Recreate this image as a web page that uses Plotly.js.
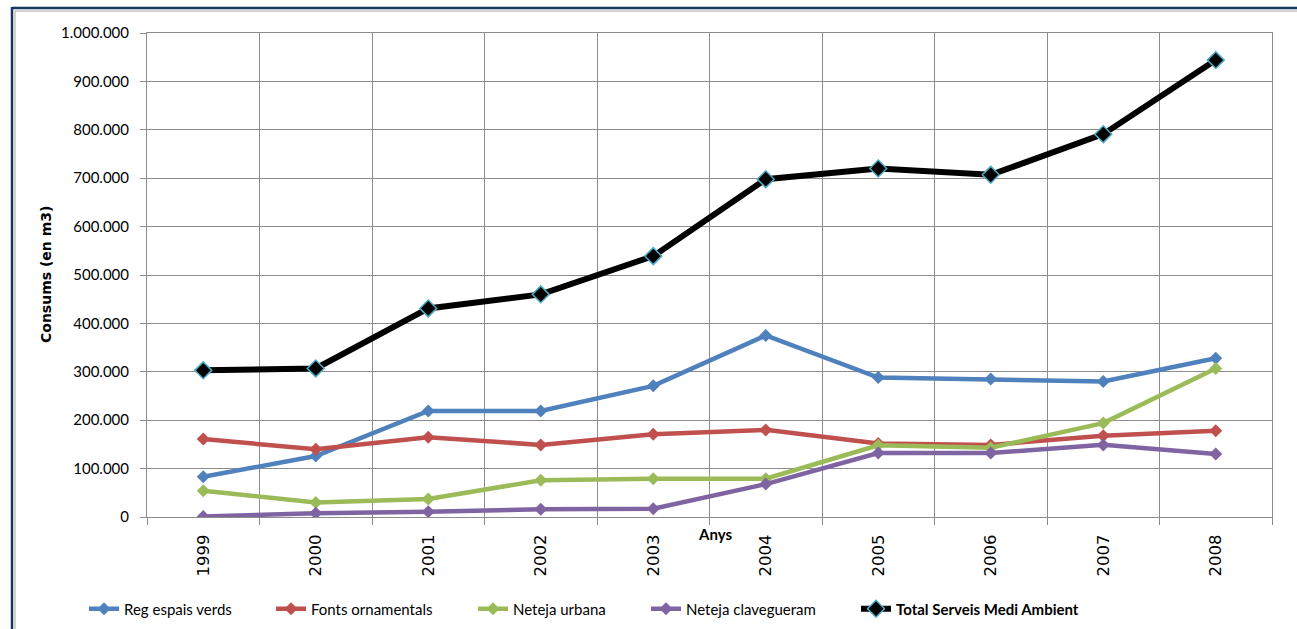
<!DOCTYPE html>
<html>
<head>
<meta charset="utf-8">
<script src="https://cdn.plot.ly/plotly-3.0.1.min.js"></script>
<style>
  html, body { margin: 0; padding: 0; background: #ffffff; }
  #chart { width: 1297px; height: 629px; }
</style>
</head>
<body>
<div id="chart"></div>
<script>
// Consums d'aigua dels serveis de medi ambient (m3), 1999-2008
const anys = ['1999', '2000', '2001', '2002', '2003', '2004', '2005', '2006', '2007', '2008'];

const regEspaisVerds    = [83000, 126000, 219000, 219000, 271000, 375000, 288000, 285000, 280000, 328000];
const fontsOrnamentals  = [161000, 140000, 165000, 149000, 171000, 180000, 152000, 149000, 168000, 178000];
const netejaUrbana      = [54000, 30000, 37000, 76000, 79000, 79000, 148000, 143000, 194000, 307000];
const netejaClaveguera  = [1000, 8000, 11000, 16000, 17000, 68000, 132000, 132000, 149000, 130000];
const totalServeis      = [303000, 307000, 431000, 460000, 539000, 698000, 720000, 707000, 791000, 944000];

const nomsSeries = ['Reg espais verds', 'Fonts ornamentals', 'Neteja urbana', 'Neteja clavegueram', '<b>Total Serveis Medi Ambient</b>'];
const colors = ['#4F81BD', '#C0504D', '#9BBB59', '#8064A2', '#000000'];
const legendIds = ['legend', 'legend2', 'legend3', 'legend4', 'legend5'];

function serie(values, i) {
  const isTotal = i === 4;
  return {
    type: 'scatter',
    mode: 'lines+markers',
    x: anys,
    y: values,
    name: nomsSeries[i],
    legend: legendIds[i],
    line: { color: colors[i], width: isTotal ? 6 : 4.5 },
    marker: {
      symbol: 'diamond',
      size: isTotal ? 13 : 10,
      color: colors[i],
      line: { color: isTotal ? '#4BACC6' : colors[i], width: isTotal ? 1.5 : 0 }
    },
    hoverinfo: 'x+y+name'
  };
}

const data = [regEspaisVerds, fontsOrnamentals, netejaUrbana, netejaClaveguera, totalServeis].map(serie);

const gridColor = '#8C8C8C';
const M = { l: 147, r: 25, t: 33, b: 112 };
const W = 1297, H = 629;
const pw = W - M.l - M.r, ph = H - M.t - M.b;
const px = v => (v - M.l) / pw;          // page x -> paper x
const py = v => (H - M.b - v) / ph;      // page y -> paper y

// one legend box per series, laid out along the bottom row
const legendLeft = [84, 271, 473, 646, 856];
function legendBox(x) {
  return {
    orientation: 'h',
    xref: 'container', yref: 'container',
    x: x / W, xanchor: 'left',
    y: (H - 609) / H, yanchor: 'middle',
    font: { family: 'Lato, sans-serif', size: 15, color: '#000000' },
    itemwidth: 30,
    bgcolor: 'rgba(0,0,0,0)'
  };
}

const layout = {
  width: W,
  height: H,
  margin: M,
  paper_bgcolor: '#ffffff',
  plot_bgcolor: '#ffffff',
  separators: ',.',
  font: { family: 'Lato, "Liberation Sans", sans-serif', color: '#000000' },
  showlegend: true,
  xaxis: {
    type: 'category',
    range: [-0.5, 9.5],
    autorange: false,
    automargin: false,
    tickson: 'boundaries',
    ticks: 'outside',
    ticklen: 7,
    tickcolor: gridColor,
    tickangle: -90,
    ticklabelstandoff: 10,
    tickfont: { family: '"DejaVu Sans", sans-serif', size: 16.5, color: '#000000' },
    showgrid: true,
    gridcolor: gridColor,
    gridwidth: 1,
    showline: true,
    linecolor: gridColor,
    linewidth: 1,
    mirror: true,
    zeroline: false,
    fixedrange: true
  },
  yaxis: {
    range: [0, 1000000],
    autorange: false,
    automargin: false,
    tickmode: 'linear',
    tick0: 0,
    dtick: 100000,
    tickformat: ',d',
    ticks: 'outside',
    ticklen: 6,
    tickcolor: gridColor,
    tickfont: { family: 'Lato, sans-serif', size: 15, color: '#000000' },
    ticklabelstandoff: 8,
    showgrid: true,
    gridcolor: gridColor,
    gridwidth: 1,
    showline: true,
    linecolor: gridColor,
    linewidth: 1,
    mirror: true,
    zeroline: false,
    fixedrange: true
  },
  annotations: [
    {
      text: '<b>Consums (en m3)</b>',
      xref: 'paper', yref: 'paper',
      x: px(46), y: py(275),
      xanchor: 'center', yanchor: 'middle',
      textangle: -90,
      showarrow: false,
      font: { family: '"DejaVu Sans", sans-serif', size: 14, color: '#000000' }
    },
    {
      text: '<b>Anys</b>',
      xref: 'paper', yref: 'paper',
      x: px(715), y: py(534),
      xanchor: 'center', yanchor: 'middle',
      showarrow: false,
      font: { family: 'Lato, sans-serif', size: 15, color: '#000000' }
    }
  ],
  shapes: [
    // outer frame: navy rule with a thin grey inner rule
    { type: 'line', xref: 'paper', yref: 'paper', x0: px(12), x1: px(12), y0: py(7), y1: py(640), line: { color: '#17375E', width: 2.5 } },
    { type: 'line', xref: 'paper', yref: 'paper', x0: px(12), x1: px(1310), y0: py(8), y1: py(8), line: { color: '#17375E', width: 2.5 } },
    { type: 'line', xref: 'paper', yref: 'paper', x0: px(15), x1: px(15), y0: py(11), y1: py(640), line: { color: '#A6A6A6', width: 1 } },
    { type: 'line', xref: 'paper', yref: 'paper', x0: px(15), x1: px(1310), y0: py(11), y1: py(11), line: { color: '#A6A6A6', width: 1 } }
  ]
};
legendIds.forEach((id, i) => { layout[id] = legendBox(legendLeft[i]); });

Plotly.newPlot('chart', data, layout, { displayModeBar: false, staticPlot: true });
</script>
</body>
</html>
